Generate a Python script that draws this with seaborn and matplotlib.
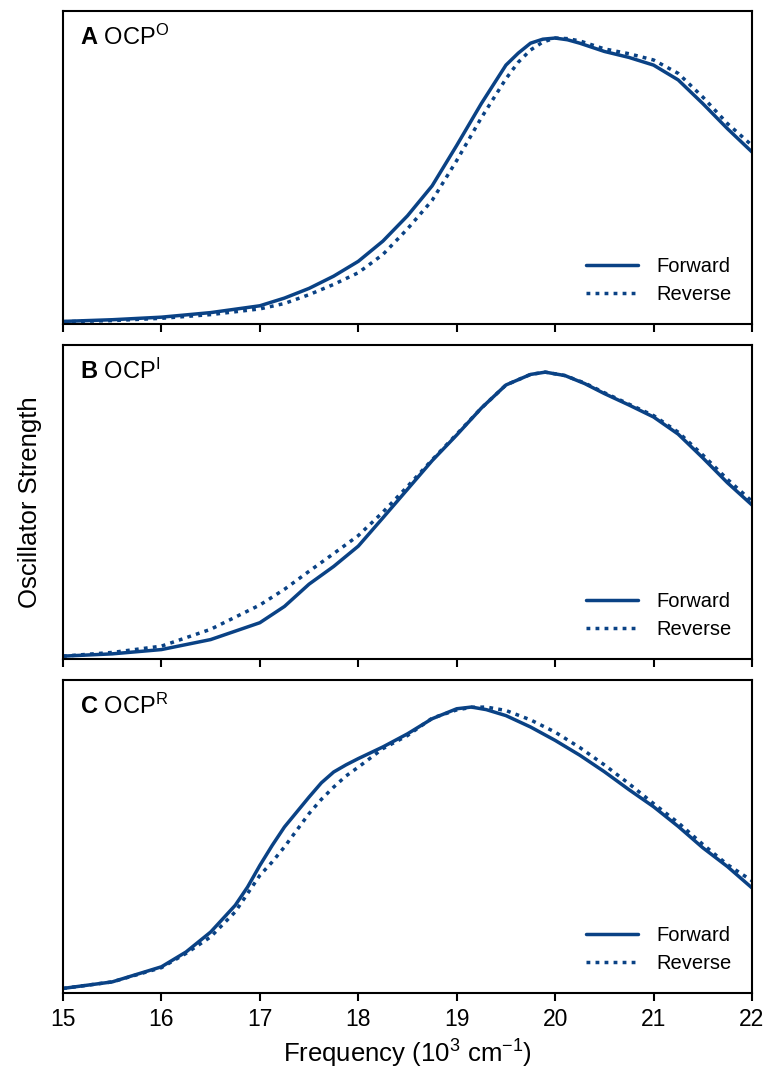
import numpy as np
import pandas as pd
import matplotlib
matplotlib.use("Agg")
import matplotlib.pyplot as plt
import seaborn as sns

# ---------------- data (normalised oscillator strength) ----------------
freq_A = [15, 15.5, 16, 16.5, 17, 17.25, 17.5, 17.75, 18, 18.25, 18.5, 18.75,
          19, 19.25, 19.5, 19.625, 19.75, 19.875, 20, 20.125, 20.25, 20.5, 20.75,
          21, 21.25, 21.5, 21.75, 22]
ocpO_forward = [0.005, 0.011, 0.020, 0.036, 0.060, 0.087, 0.121, 0.164, 0.216, 0.287,
                0.376, 0.481, 0.623, 0.770, 0.905, 0.947, 0.982, 0.996, 1.000, 0.994,
                0.982, 0.953, 0.932, 0.905, 0.853, 0.770, 0.682, 0.600]
ocpO_reverse = [0.004, 0.008, 0.016, 0.029, 0.049, 0.068, 0.099, 0.135, 0.176, 0.240,
                0.330, 0.430, 0.570, 0.720, 0.857, 0.915, 0.958, 0.986, 1.000, 0.998,
                0.990, 0.962, 0.945, 0.923, 0.876, 0.793, 0.700, 0.623]

freq_B = [15, 15.5, 16, 16.5, 17, 17.25, 17.5, 17.75, 18, 18.25, 18.5, 18.75,
          19, 19.25, 19.5, 19.75, 19.9, 20.1, 20.3, 20.5, 20.75, 21, 21.25, 21.5, 21.75, 22]
ocpI_forward = [0.006, 0.014, 0.029, 0.064, 0.123, 0.180, 0.258, 0.320, 0.391, 0.490,
                0.590, 0.690, 0.780, 0.874, 0.955, 0.992, 1.000, 0.988, 0.960, 0.925,
                0.885, 0.843, 0.783, 0.700, 0.613, 0.535]
ocpI_reverse = [0.006, 0.019, 0.041, 0.100, 0.185, 0.240, 0.303, 0.365, 0.428, 0.510,
                0.600, 0.693, 0.783, 0.874, 0.955, 0.992, 1.000, 0.988, 0.962, 0.928,
                0.888, 0.848, 0.790, 0.710, 0.625, 0.548]

freq_C = [15, 15.5, 16, 16.25, 16.5, 16.75, 16.875, 17, 17.125, 17.25, 17.5, 17.625,
          17.75, 17.875, 18, 18.25, 18.5, 18.75, 19, 19.15, 19.3, 19.5, 19.75, 20,
          20.25, 20.5, 20.75, 21, 21.25, 21.5, 21.75, 22]
ocpR_forward = [0.012, 0.035, 0.088, 0.140, 0.210, 0.304, 0.368, 0.444, 0.514, 0.579,
                0.684, 0.734, 0.772, 0.797, 0.819, 0.860, 0.906, 0.959, 0.994, 1.000,
                0.991, 0.970, 0.930, 0.883, 0.831, 0.773, 0.710, 0.650, 0.581, 0.506,
                0.440, 0.365]
ocpR_reverse = [0.012, 0.035, 0.085, 0.135, 0.193, 0.281, 0.345, 0.409, 0.456, 0.509,
                0.626, 0.676, 0.719, 0.758, 0.789, 0.854, 0.900, 0.961, 0.990, 0.999,
                1.000, 0.988, 0.955, 0.912, 0.858, 0.797, 0.731, 0.661, 0.594, 0.518,
                0.447, 0.390]

panel_letters = ["A", "B", "C"]
panel_states = ["O", "I", "R"]
series_names = ["Forward", "Reverse"]
x_ticks = [15, 16, 17, 18, 19, 20, 21, 22]

panels = [
    (freq_A, ocpO_forward, ocpO_reverse),
    (freq_B, ocpI_forward, ocpI_reverse),
    (freq_C, ocpR_forward, ocpR_reverse),
]

# ---------------- style ----------------
sns.set_theme(style="ticks")
plt.rcParams["font.family"] = ["Liberation Sans", "DejaVu Sans"]
plt.rcParams["mathtext.fontset"] = "custom"
plt.rcParams["mathtext.rm"] = "Liberation Sans"
plt.rcParams["mathtext.it"] = "Liberation Sans:italic"
plt.rcParams["mathtext.bf"] = "Liberation Sans:bold"
plt.rcParams["axes.linewidth"] = 1.5
plt.rcParams["axes.edgecolor"] = "black"
plt.rcParams["text.color"] = "black"
plt.rcParams["axes.labelcolor"] = "black"
plt.rcParams["xtick.color"] = "black"
plt.rcParams["xtick.labelcolor"] = "black"

COLOR = "#0a4285"
LW = 2.5

fig = plt.figure(figsize=(7.67, 10.71), dpi=100)
left, right = 63 / 767, 752 / 767
tops = [11, 345, 680]
bottoms = [324, 659, 993]
H = 1071

axes = []
for i, (fx, fwd, rev) in enumerate(panels):
    y0 = 1 - bottoms[i] / H
    h = (bottoms[i] - tops[i]) / H
    ax = fig.add_axes([left, y0, right - left, h])
    axes.append(ax)
    df = pd.DataFrame({
        "freq": list(fx) * 2,
        "strength": list(fwd) + list(rev),
        "direction": [series_names[0]] * len(fx) + [series_names[1]] * len(fx),
    })
    sns.lineplot(data=df[df.direction == series_names[0]], x="freq", y="strength",
                 color=COLOR, lw=LW, ax=ax, label=series_names[0])
    sns.lineplot(data=df[df.direction == series_names[1]], x="freq", y="strength",
                 color=COLOR, lw=LW, dashes=False, ax=ax, label=series_names[1])
    ax.lines[-1].set_dashes((1.1, 1.5))
    ax.set_xlim(15, 22)
    ax.set_ylim(-0.004, 1.095)
    ax.set_yticks([])
    ax.set_xticks(x_ticks)
    ax.tick_params(axis="x", direction="out", length=6, width=1.5, labelsize=16.5,
                   pad=5, color="black", labelcolor="black")
    ax.set_xlabel("")
    ax.set_ylabel("")
    if i < 2:
        ax.set_xticklabels([])
    ax.text(0.025, 0.955, r"$\mathbf{%s}$ OCP$^{\mathrm{%s}}$" % (panel_letters[i], panel_states[i]),
            transform=ax.transAxes, fontsize=17, va="top", ha="left", color="black")
    leg = ax.legend(loc="lower right", frameon=False, fontsize=14.5,
                    handlelength=2.6, borderaxespad=0.6, labelspacing=0.45,
                    handletextpad=0.9)
    for t in leg.get_texts():
        t.set_color("black")
    leg.get_lines()[1].set_dashes((1.1, 1.5))
    for s in ax.spines.values():
        s.set_visible(True)
        s.set_linewidth(1.5)
        s.set_color("black")

axes[2].set_xlabel("Frequency (10$^{3}$ cm$^{\u22121}$)", fontsize=18.5, labelpad=5,
                   color="black")
fig.text(30 / 767, 1 - 502 / H, "Oscillator Strength", rotation=90,
         fontsize=18.5, va="center", ha="center", color="black")

fig.savefig("out.png", dpi=100)
